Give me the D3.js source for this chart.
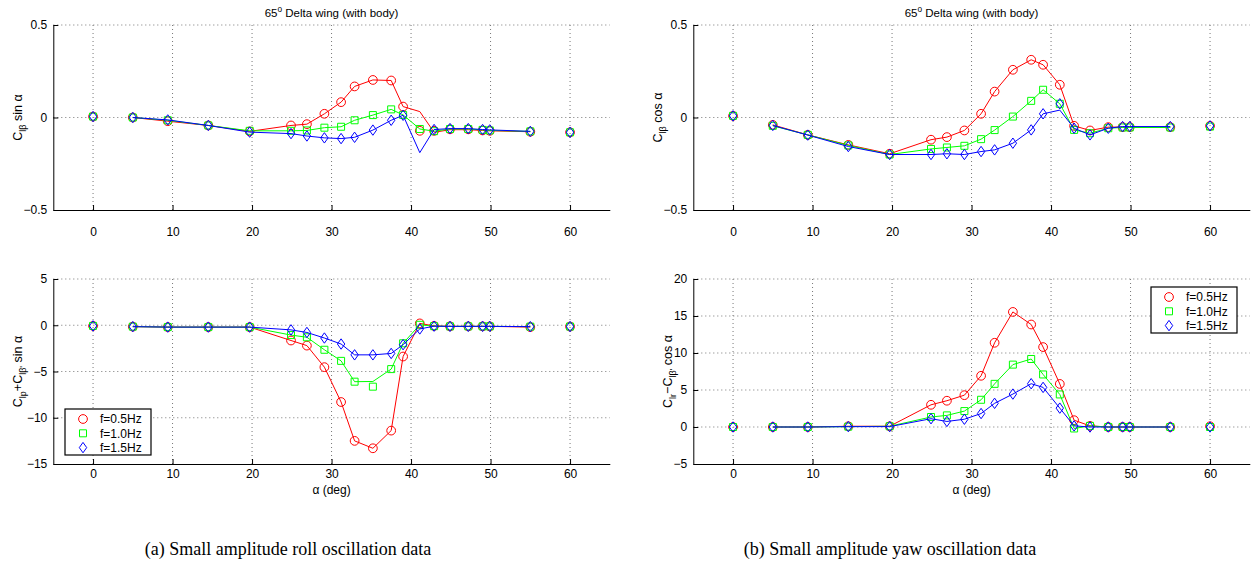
<!DOCTYPE html>
<html>
<head>
<meta charset="utf-8">
<script src="https://cdn.jsdelivr.net/npm/d3@7"></script>
<style>
  body { margin: 0; background: #fff; }
  svg { display: block; font-family: 'Liberation Sans', Arial, sans-serif; }
</style>
</head>
<body>
<div id="chart"></div>
<script>
// angle of attack of every measured point (deg)
const alpha = [0, 5, 9.4, 14.5, 19.7, 24.9, 26.9, 29.1, 31.2, 32.9, 35.2, 37.5, 39, 41.1, 42.9, 44.9, 47.2, 49, 49.9, 55, 60];
const xTicks = [0, 10, 20, 30, 40, 50, 60];
const freqLabels = ['f=0.5Hz', 'f=1.0Hz', 'f=1.5Hz'];

// (a) top: Clb sin(alpha)
const rollSinRed = [0.005, 0, -0.02, -0.043, -0.075, -0.043, -0.036, 0.02, 0.083, 0.168, 0.203, 0.2, 0.059, -0.072, -0.072, -0.064, -0.064, -0.07, -0.072, -0.077, -0.08];
const rollSinRedLine = [null, 0, -0.02, -0.043, -0.075, -0.043, -0.036, 0.02, 0.083, 0.168, 0.203, 0.2, 0.059, 0.032, -0.08, -0.066, -0.066, -0.07, -0.072, -0.077, null];
const rollSinGreen = [0.005, 0, -0.015, -0.043, -0.072, -0.072, -0.07, -0.055, -0.05, -0.015, 0.013, 0.044, 0.014, -0.062, -0.074, -0.062, -0.062, -0.067, -0.07, -0.075, -0.08];
const rollSinBlue = [0.005, 0, -0.013, -0.043, -0.079, -0.087, -0.1, -0.11, -0.114, -0.107, -0.068, -0.015, 0.012, null, -0.065, -0.06, -0.06, -0.065, -0.067, -0.075, -0.08];
const rollSinBlueLine = [null, 0, -0.013, -0.043, -0.079, -0.087, -0.1, -0.11, -0.114, -0.107, -0.068, -0.015, 0.012, -0.19, -0.065, -0.06, -0.06, -0.065, -0.067, -0.075, null];

// (b) top: Clb cos(alpha)
const yawCosRed = [0.009, -0.04, -0.094, -0.148, -0.196, -0.12, -0.106, -0.07, 0.02, 0.14, 0.258, 0.312, 0.285, 0.177, -0.045, -0.07, -0.052, -0.052, -0.052, -0.052, -0.045];
const yawCosGreen = [0.009, -0.045, -0.094, -0.151, -0.2, -0.17, -0.162, -0.153, -0.117, -0.068, 0.005, 0.09, 0.15, 0.074, -0.067, -0.085, -0.058, -0.054, -0.054, -0.054, -0.049];
const yawCosBlue = [0.009, -0.043, -0.095, -0.157, -0.2, -0.2, -0.196, -0.2, -0.184, -0.175, -0.139, -0.067, 0.02, 0.074, -0.058, -0.094, -0.058, -0.049, -0.049, -0.049, -0.045];
const yawCosBlueLine = [null, -0.043, -0.095, -0.157, -0.2, -0.2, -0.196, -0.2, -0.184, -0.175, -0.139, -0.067, 0.02, 0.04, -0.058, -0.094, -0.058, -0.049, -0.049, -0.049, null];

// (a) bottom: Clp + Clb' sin(alpha)
const rollDampRed = [-0.07, -0.15, -0.2, -0.2, -0.2, -1.65, -2.2, -4.53, -8.3, -12.5, -13.3, -11.39, -3.38, 0.2, -0.07, -0.12, -0.12, -0.12, -0.12, -0.2, -0.14];
const rollDampGreen = [-0.07, -0.15, -0.2, -0.2, -0.2, -1.06, -1.3, -2.65, -3.85, -6.1, -6.64, -4.74, -1.95, 0.05, -0.1, -0.12, -0.12, -0.12, -0.12, -0.15, -0.14];
const rollDampGreenLine = [null, -0.15, -0.2, -0.2, -0.2, -1.06, -1.3, -2.65, -3.85, -6.1, -6.08, -4.74, -1.95, 0.05, -0.1, -0.12, -0.12, -0.12, -0.12, -0.15, null];
const rollDampBlue = [-0.07, -0.15, -0.2, -0.2, -0.2, -0.5, -0.78, -1.38, -2.03, -3.2, -3.2, -3.05, -2.1, -0.4, -0.1, -0.12, -0.12, -0.12, -0.12, -0.15, -0.14];

// (b) bottom: Clr - Clb' cos(alpha)
const yawDampRed = [0, 0, 0, 0.1, 0.1, 3.0, 3.55, 4.3, 6.92, 11.38, 15.55, 13.85, 10.8, 5.82, 0.92, 0.15, 0, 0, 0, 0, 0.1];
const yawDampGreen = [0, 0, 0, 0.05, 0.1, 1.35, 1.57, 2.15, 3.68, 5.83, 8.43, 9.19, 7.1, 4.4, -0.2, 0.15, 0, 0, 0, 0, 0];
const yawDampBlue = [0, 0, 0, 0.05, 0.05, 1.12, 0.75, 1.05, 1.82, 3.2, 4.45, 5.85, 5.35, 2.55, 0.15, 0, 0, 0, 0, 0, 0];

const Red = '#ff0000';
const Green = '#00ff00';
const Blue = '#0000ff';
const GridGray = '#777';

const width = 1252;
const height = 569;

const svg = d3
  .select('#chart')
  .append('svg')
  .attr('width', width)
  .attr('height', height)
  .attr('viewBox', '0 0 ' + width + ' ' + height);

svg.append('rect').attr('width', width).attr('height', height).attr('fill', '#fff');

// the curve skips the isolated end points at 0 and 60 deg
const curveOf = (vals) => vals.map((v, i) => (i === 0 || i === vals.length - 1 ? null : v));

const markerPath = {
  circle: d3.symbol().type(d3.symbolCircle).size(60)(),
  square: 'M-3.5,-3.5H3.5V3.5H-3.5Z',
  diamond: 'M0,-5.2L3.7,0L0,5.2L-3.7,0Z',
};

function seriesOf(red, green, blue, redLine, greenLine, blueLine) {
  return [
    { color: Red, marker: 'circle', values: red, line: redLine || curveOf(red) },
    { color: Green, marker: 'square', values: green, line: greenLine || curveOf(green) },
    { color: Blue, marker: 'diamond', values: blue, line: blueLine || curveOf(blue) },
  ];
}

function addLabel(sel, parts, size) {
  // parts: [text, 'sub' | 'sup' | null]
  let shift = 0;
  parts.forEach(([t, kind]) => {
    const target = kind === 'sub' ? 4 : kind === 'sup' ? -5 : 0;
    sel
      .append('tspan')
      .attr('dy', target - shift)
      .style('font-size', kind ? size * 0.72 + 'px' : size + 'px')
      .text(t);
    shift = target;
  });
}

function drawPanel(p) {
  const g = svg.append('g').attr('class', 'panel');
  const x = d3.scaleLinear().domain([-5, 65]).range([p.left, p.right]);
  const y = d3.scaleLinear().domain(p.yDomain).range([p.bottom, p.top]);

  // dotted grid
  g.append('g')
    .selectAll('line')
    .data(xTicks)
    .join('line')
    .attr('x1', (d) => x(d))
    .attr('x2', (d) => x(d))
    .attr('y1', p.top)
    .attr('y2', p.bottom)
    .attr('stroke', GridGray)
    .attr('stroke-dasharray', '1,3');

  g.append('g')
    .selectAll('line')
    .data(p.yTicks.filter((d) => d !== p.yDomain[0]))
    .join('line')
    .attr('x1', p.left)
    .attr('x2', p.right)
    .attr('y1', (d) => y(d))
    .attr('y2', (d) => y(d))
    .attr('stroke', GridGray)
    .attr('stroke-dasharray', '1,3');

  const xAxis = g
    .append('g')
    .attr('transform', `translate(0,${p.bottom})`)
    .call(d3.axisBottom(x).tickValues(xTicks).tickSizeInner(-5).tickSizeOuter(0).tickPadding(p.xPad));

  const yAxis = g
    .append('g')
    .attr('transform', `translate(${p.left},0)`)
    .call(
      d3
        .axisLeft(y)
        .tickValues(p.yTicks)
        .tickFormat(d3.format('~g'))
        .tickSizeInner(-5)
        .tickSizeOuter(0)
        .tickPadding(6)
    );

  [xAxis, yAxis].forEach((a) => {
    a.select('.domain').attr('stroke', '#000');
    a.selectAll('.tick line').attr('stroke', '#000');
    a.selectAll('text')
      .style('font-size', '12px')
      .style('font-family', "'Liberation Sans', Arial, sans-serif")
      .attr('fill', '#000');
  });

  // series: red, green, blue drawn in that order
  const line = d3
    .line()
    .defined((d) => d[1] != null)
    .x((d) => x(d[0]))
    .y((d) => y(d[1]));

  p.series.forEach((s) => {
    g.append('path')
      .datum(alpha.map((a, i) => [a, s.line[i]]))
      .attr('d', line)
      .attr('fill', 'none')
      .attr('stroke', s.color)
      .attr('stroke-width', 1);

    g.append('g')
      .selectAll('path')
      .data(alpha.map((a, i) => [a, s.values[i]]).filter((d) => d[1] != null))
      .join('path')
      .attr('d', markerPath[s.marker])
      .attr('transform', (d) => `translate(${x(d[0])},${y(d[1])})`)
      .attr('fill', 'none')
      .attr('stroke', s.color)
      .attr('stroke-width', 1);
  });

  if (p.title) {
    const t = g
      .append('text')
      .attr('x', (p.left + p.right) / 2)
      .attr('y', p.top - 8)
      .attr('text-anchor', 'middle')
      .attr('fill', '#000');
    addLabel(t, [['65', null], ['o', 'sup'], [' Delta wing (with body)', null]], 11.5);
  }

  const yl = g
    .append('text')
    .attr('transform', `translate(${p.yLabelX},${(p.top + p.bottom) / 2}) rotate(-90)`)
    .attr('text-anchor', 'middle')
    .attr('fill', '#000');
  addLabel(yl, p.yLabel, 12.5);

  if (p.xLabel) {
    g.append('text')
      .attr('x', x(30))
      .attr('y', p.bottom + 30)
      .attr('text-anchor', 'middle')
      .style('font-size', '12px')
      .text('α (deg)');
  }

  if (p.legend) {
    const lg = g.append('g').attr('transform', `translate(${p.legend[0]},${p.legend[1]})`);
    lg.append('rect')
      .attr('width', 86)
      .attr('height', 46)
      .attr('fill', '#fff')
      .attr('stroke', '#000')
      .attr('stroke-width', 1.2);
    p.series.forEach((s, i) => {
      lg.append('path')
        .attr('d', markerPath[s.marker])
        .attr('transform', `translate(18,${10 + i * 14.3})`)
        .attr('fill', 'none')
        .attr('stroke', s.color);
      lg.append('text')
        .attr('x', 35)
        .attr('y', 14.3 + i * 14.3)
        .style('font-size', '12px')
        .text(freqLabels[i]);
    });
  }
}

const leftBox = { left: 53.3, right: 609.8 };
const rightBox = { left: 693.3, right: 1249.8 };

drawPanel({
  ...leftBox,
  top: 25,
  bottom: 210,
  yDomain: [-0.5, 0.5],
  yTicks: [-0.5, 0, 0.5],
  xPad: 17,
  title: true,
  yLabelX: 22,
  yLabel: [['C', null], ['lβ', 'sub'], [' sin α', null]],
  series: seriesOf(rollSinRed, rollSinGreen, rollSinBlue, rollSinRedLine, null, rollSinBlueLine),
});

drawPanel({
  ...rightBox,
  top: 25,
  bottom: 210,
  yDomain: [-0.5, 0.5],
  yTicks: [-0.5, 0, 0.5],
  xPad: 17,
  title: true,
  yLabelX: 662,
  yLabel: [['C', null], ['lβ', 'sub'], [' cos α', null]],
  series: seriesOf(yawCosRed, yawCosGreen, yawCosBlue, null, null, yawCosBlueLine),
});

drawPanel({
  ...leftBox,
  top: 279,
  bottom: 464,
  yDomain: [-15, 5],
  yTicks: [-15, -10, -5, 0, 5],
  xPad: 5,
  xLabel: true,
  yLabelX: 22,
  yLabel: [['C', null], ['lp', 'sub'], ['+C', null], ['lβ\'', 'sub'], [' sin α', null]],
  legend: [65, 409],
  series: seriesOf(rollDampRed, rollDampGreen, rollDampBlue, null, rollDampGreenLine, null),
});

drawPanel({
  ...rightBox,
  top: 279,
  bottom: 464,
  yDomain: [-5, 20],
  yTicks: [-5, 0, 5, 10, 15, 20],
  xPad: 5,
  xLabel: true,
  yLabelX: 672,
  yLabel: [['C', null], ['lr', 'sub'], ['−C', null], ['lβ\'', 'sub'], [' cos α', null]],
  legend: [1151, 287],
  series: seriesOf(yawDampRed, yawDampGreen, yawDampBlue),
});

// sub-figure captions
svg
  .selectAll('.caption')
  .data([
    ['(a) Small amplitude roll oscillation data', 288],
    ['(b) Small amplitude yaw oscillation data', 890],
  ])
  .join('text')
  .attr('class', 'caption')
  .attr('x', (d) => d[1])
  .attr('y', 555)
  .attr('text-anchor', 'middle')
  .style('font-family', "'Liberation Serif', 'DejaVu Serif', serif")
  .style('font-size', '18px')
  .text((d) => d[0]);
</script>
</body>
</html>
